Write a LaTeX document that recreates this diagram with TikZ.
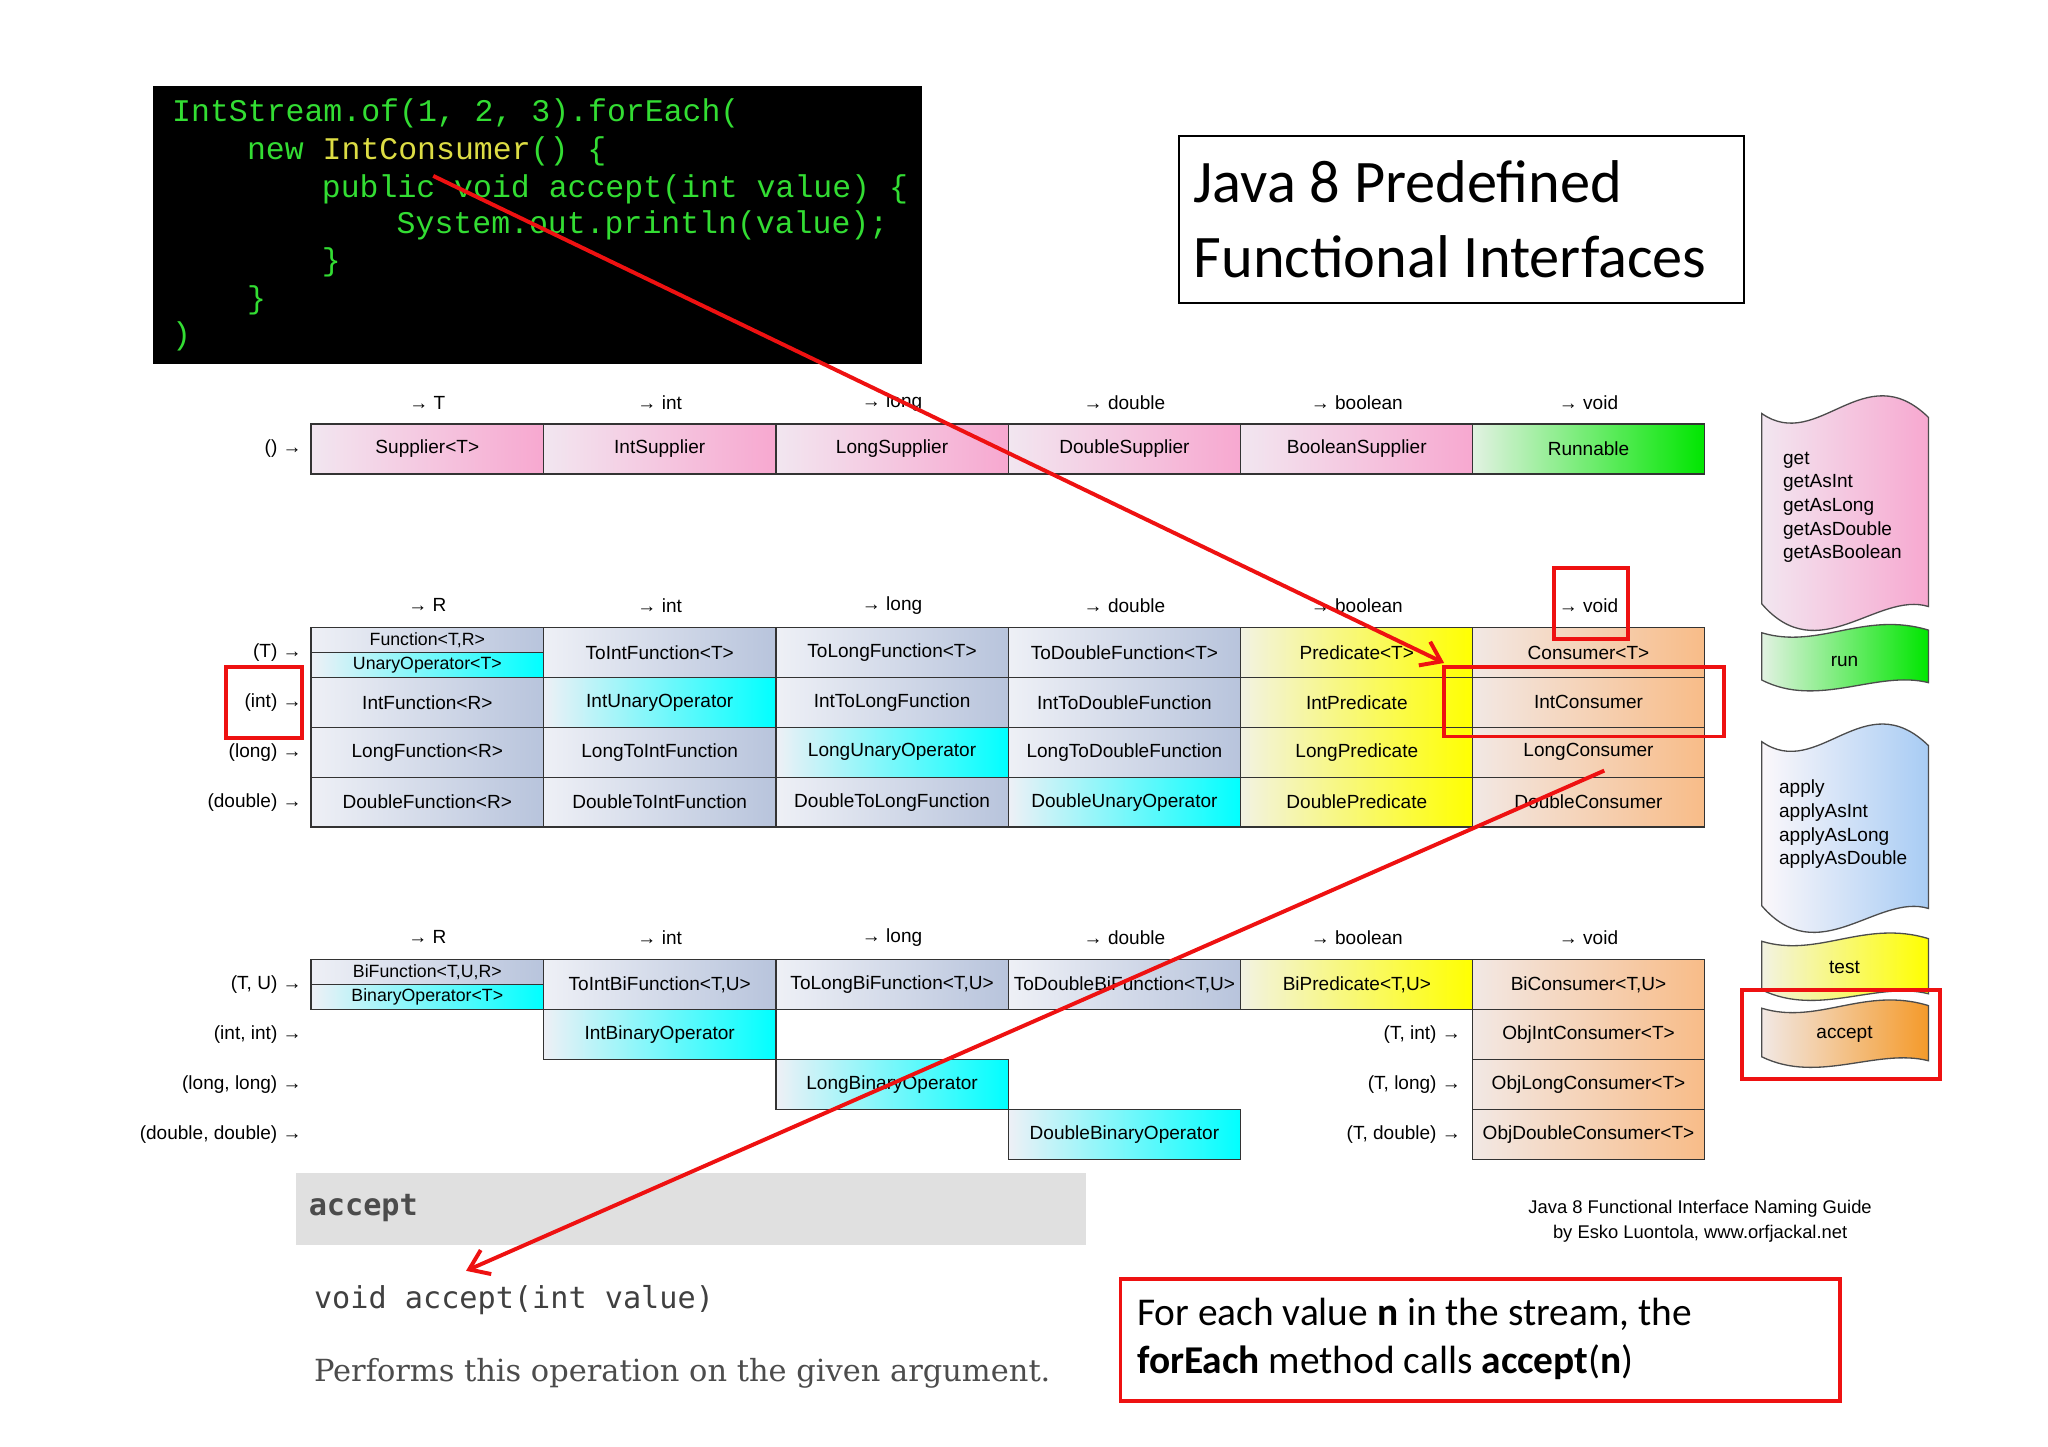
\documentclass[tikz,border=0pt]{standalone}
\usepackage{fontspec}
\setmainfont{Liberation Sans}
\setmonofont{Liberation Mono}
\newfontfamily\calfont{Carlito}
\newfontfamily\dser{DejaVu Serif}
\newfontfamily\dmono{DejaVu Sans Mono}
\usetikzlibrary{arrows.meta}
\definecolor{pinkL}{HTML}{F2E6F0}\definecolor{pinkR}{HTML}{F7A8D0}
\definecolor{greenL}{HTML}{E2F2E2}\definecolor{greenR}{HTML}{00E600}
\definecolor{blueL}{HTML}{EEF0F6}\definecolor{blueR}{HTML}{B8C4DC}
\definecolor{cyanR}{HTML}{00FFFF}
\definecolor{yelL}{HTML}{F2F2E2}\definecolor{yelR}{HTML}{FFFF00}
\definecolor{orL}{HTML}{F2E8E4}\definecolor{orR}{HTML}{F8BC88}
\definecolor{wblue}{HTML}{A8CCF4}\definecolor{wor}{HTML}{F49A2A}
\definecolor{codeg}{HTML}{33DD33}\definecolor{codey}{HTML}{DDDD44}
\definecolor{redl}{HTML}{EE1111}
\newcommand\cellc[6]{\node[cellbox,left color=#4,right color=#5] (#1) at (#2,#3) {#6};}
\tikzset{
 cellbox/.style={draw=black!80,line width=1pt,minimum width=177pt,minimum height=38pt,inner sep=0pt,font=\fontsize{14.5}{16}\selectfont},
 halfbox/.style={cellbox,minimum height=19pt,font=\fontsize{13.5}{14}\selectfont},
 hdr/.style={font=\fontsize{14.5}{16}\selectfont,inner sep=0pt},
 rlab/.style={font=\fontsize{14.5}{16}\selectfont,inner sep=0pt,anchor=east},
 code/.style={anchor=west,inner sep=0pt,text=codeg,font=\ttfamily\fontsize{24}{26}\selectfont},
 redbox/.style={draw=redl,line width=3pt},
 redarrow/.style={draw=redl,line width=3pt,-{Straight Barb[length=14pt,width=20pt,line width=3pt]}},
 wave/.style={draw=black!70,line width=1pt},
 wtext/.style={font=\fontsize{14.5}{18}\selectfont,align=left,inner sep=0pt}
}
\begin{document}
\begin{tikzpicture}[x=1pt,y=-1pt]
\useasboundingbox[fill=white] (0,0) rectangle (1560,1102);
% code box
\node[fill=black,minimum width=586pt,minimum height=212pt,anchor=north west,inner sep=0pt] (codebox) at (116,65) {};
\node[code] (c1) at (131,86) {IntStream.of(1, 2, 3).forEach(};
\node[code] (c2) at (188,115) {new {\color{codey}IntConsumer}() \{};
\node[code] (c3) at (245,144) {public void accept(int value) \{};
\node[code] (c4) at (302,172) {System.out.println(value);};
\node[code] (c5) at (245,200) {\}};
\node[code] (c6) at (188,229) {\}};
\node[code] (c7) at (131,256) {)};
% title
\node[draw=black,line width=1.5pt,minimum width=431pt,minimum height=127pt,anchor=north west,inner sep=0pt] (title) at (897,103) {};
\node[anchor=west,align=left,font=\calfont\fontsize{46}{57}\selectfont,inner sep=0pt] (titletext) at (909,167) {Java 8 Predefined\\Functional Interfaces};
% headers
\foreach \x/\t [count=\i] in {325.5/T,502.5/int,679.5/long,856.5/double,1033.5/boolean,1210/void}{
 \node[hdr] (ha\i) at (\x,307) {→ \t};
}
\foreach \x/\t [count=\i] in {325.5/R,502.5/int,679.5/long,856.5/double,1033.5/boolean,1210/void}{
 \node[hdr] (hb\i) at (\x,461) {→ \t};
 \node[hdr] (hc\i) at (\x,714) {→ \t};
}
\node[rlab] (ra) at (230,342) {() →};
\cellc{a1}{325.5}{342}{pinkL}{pinkR}{Supplier<T>}
\cellc{a2}{502.5}{342}{pinkL}{pinkR}{IntSupplier}
\cellc{a3}{679.5}{342}{pinkL}{pinkR}{LongSupplier}
\cellc{a4}{856.5}{342}{pinkL}{pinkR}{DoubleSupplier}
\cellc{a5}{1033.5}{342}{pinkL}{pinkR}{BooleanSupplier}
\cellc{a6}{1210}{342}{greenL}{greenR}{Runnable}
% group 2
\node[rlab] (rb1) at (230,497) {(T) →};
\node[rlab] (rb2) at (230,535) {(int) →};
\node[rlab] (rb3) at (230,573) {(long) →};
\node[rlab] (rb4) at (230,611) {(double) →};
\node[halfbox,left color=blueL,right color=blueR] (b1a) at (325.5,487.5) {Function<T,R>};
\node[halfbox,left color=blueL,right color=cyanR] (b1b) at (325.5,506.5) {UnaryOperator<T>};
\cellc{b2}{502.5}{497}{blueL}{blueR}{ToIntFunction<T>}
\cellc{b3}{679.5}{497}{blueL}{blueR}{ToLongFunction<T>}
\cellc{b4}{856.5}{497}{blueL}{blueR}{ToDoubleFunction<T>}
\cellc{b5}{1033.5}{497}{yelL}{yelR}{Predicate<T>}
\cellc{b6}{1210}{497}{orL}{orR}{Consumer<T>}
\cellc{c1c}{325.5}{535}{blueL}{blueR}{IntFunction<R>}
\cellc{c2c}{502.5}{535}{blueL}{cyanR}{IntUnaryOperator}
\cellc{c3c}{679.5}{535}{blueL}{blueR}{IntToLongFunction}
\cellc{c4c}{856.5}{535}{blueL}{blueR}{IntToDoubleFunction}
\cellc{c5c}{1033.5}{535}{yelL}{yelR}{IntPredicate}
\cellc{c6c}{1210}{535}{orL}{orR}{IntConsumer}
\cellc{d1}{325.5}{573}{blueL}{blueR}{LongFunction<R>}
\cellc{d2}{502.5}{573}{blueL}{blueR}{LongToIntFunction}
\cellc{d3}{679.5}{573}{blueL}{cyanR}{LongUnaryOperator}
\cellc{d4}{856.5}{573}{blueL}{blueR}{LongToDoubleFunction}
\cellc{d5}{1033.5}{573}{yelL}{yelR}{LongPredicate}
\cellc{d6}{1210}{573}{orL}{orR}{LongConsumer}
\cellc{e1}{325.5}{611}{blueL}{blueR}{DoubleFunction<R>}
\cellc{e2}{502.5}{611}{blueL}{blueR}{DoubleToIntFunction}
\cellc{e3}{679.5}{611}{blueL}{blueR}{DoubleToLongFunction}
\cellc{e4}{856.5}{611}{blueL}{cyanR}{DoubleUnaryOperator}
\cellc{e5}{1033.5}{611}{yelL}{yelR}{DoublePredicate}
\cellc{e6}{1210}{611}{orL}{orR}{DoubleConsumer}
% group 3
\node[rlab] (rc1) at (230,750) {(T, U) →};
\node[rlab] (rc2) at (230,788) {(int, int) →};
\node[rlab] (rc3) at (230,826) {(long, long) →};
\node[rlab] (rc4) at (230,864) {(double, double) →};
\node[halfbox,left color=blueL,right color=blueR] (f1a) at (325.5,740.5) {BiFunction<T,U,R>};
\node[halfbox,left color=blueL,right color=cyanR] (f1b) at (325.5,759.5) {BinaryOperator<T>};
\cellc{f2}{502.5}{750}{blueL}{blueR}{ToIntBiFunction<T,U>}
\cellc{f3}{679.5}{750}{blueL}{blueR}{ToLongBiFunction<T,U>}
\cellc{f4}{856.5}{750}{blueL}{blueR}{ToDoubleBiFunction<T,U>}
\cellc{f5}{1033.5}{750}{yelL}{yelR}{BiPredicate<T,U>}
\cellc{f6}{1210}{750}{orL}{orR}{BiConsumer<T,U>}
\cellc{g2}{502.5}{788}{blueL}{cyanR}{IntBinaryOperator}
\cellc{g6}{1210}{788}{orL}{orR}{ObjIntConsumer<T>}
\cellc{h3}{679.5}{826}{blueL}{cyanR}{LongBinaryOperator}
\cellc{h6}{1210}{826}{orL}{orR}{ObjLongConsumer<T>}
\cellc{i4}{856.5}{864}{blueL}{cyanR}{DoubleBinaryOperator}
\cellc{i6}{1210}{864}{orL}{orR}{ObjDoubleConsumer<T>}
\node[rlab] (rg) at (1113,788) {(T, int) →};
\node[rlab] (rh) at (1113,826) {(T, long) →};
\node[rlab] (ri) at (1113,864) {(T, double) →};
% wave shapes
\path[wave,left color=pinkL,right color=pinkR] (1342,315) .. controls (1385,345) and (1420,270) .. (1469,318) -- (1469,462) .. controls (1430,450) and (1385,510) .. (1342,460) -- cycle;
\node[wtext,anchor=north west] (wp) at (1358,344) {get\\getAsInt\\getAsLong\\getAsDouble\\getAsBoolean};
\path[wave,left color=greenL,right color=greenR] (1342,482) .. controls (1385,495) and (1420,465) .. (1469,480) -- (1469,520) .. controls (1430,510) and (1385,540) .. (1342,518) -- cycle;
\node[wtext] (wr) at (1405,504) {run};
\path[wave,left color=pinkL!30!white,right color=wblue] (1342,565) .. controls (1385,595) and (1420,520) .. (1469,568) -- (1469,692) .. controls (1430,680) and (1385,740) .. (1342,690) -- cycle;
\node[wtext,anchor=north west] (wb) at (1355,594) {apply\\applyAsInt\\applyAsLong\\applyAsDouble};
\path[wave,left color=yelL,right color=yelR] (1342,717) .. controls (1385,730) and (1420,700) .. (1469,715) -- (1469,757) .. controls (1430,747) and (1385,775) .. (1342,754) -- cycle;
\node[wtext] (wt) at (1405,737) {test};
\path[wave,left color=orL,right color=wor] (1342,768) .. controls (1385,781) and (1420,751) .. (1469,766) -- (1469,808) .. controls (1430,798) and (1385,826) .. (1342,805) -- cycle;
\node[wtext] (wa) at (1405,788) {accept};
% red boxes
\node[redbox,minimum width=151pt,minimum height=68pt,inner sep=0pt] (rbacc) at (1402.5,788) {};
\node[redbox,minimum width=56pt,minimum height=54pt,inner sep=0pt] (rbvoid) at (1212,460) {};
\node[redbox,minimum width=213pt,minimum height=53pt,inner sep=0pt] (rbic) at (1206.5,534.5) {};
\node[redbox,minimum width=58pt,minimum height=54pt,inner sep=0pt] (rbint) at (201,535) {};
% doc
\node[fill=black!12,minimum width=602pt,minimum height=55pt,anchor=north west,inner sep=0pt] (docband) at (225,893) {};
\node[anchor=west,inner sep=0pt,font=\dmono\bfseries\fontsize{23}{26}\selectfont,text=black!70] (dacc) at (235,920) {accept};
\node[anchor=west,inner sep=0pt,font=\dmono\fontsize{23}{26}\selectfont,text=black!75] (dsig) at (239,990) {void accept(int value)};
\node[anchor=west,inner sep=0pt,font=\dser\fontsize{23.2}{26}\selectfont,text=black!70] (ddesc) at (239,1046) {Performs this operation on the given argument.};
% credit
\node[align=center,font=\fontsize{14}{19}\selectfont,inner sep=0pt] (credit) at (1295,930) {Java 8 Functional Interface Naming Guide\\by Esko Luontola, www.orfjackal.net};
% bottom red box
\node[redbox,minimum width=548pt,minimum height=93pt,anchor=north west,inner sep=0pt] (note) at (852,973) {};
\node[anchor=west,align=left,font=\calfont\fontsize{30}{37}\selectfont,inner sep=0pt] (notetext) at (866,1020) {For each value \textbf{n} in the stream, the\\\textbf{forEach} method calls \textbf{accept}(\textbf{n})};
% arrows
\coordinate (s1) at (330,134);
\coordinate (e1x) at (1100,505);
\coordinate (s2) at (1222,587);
\coordinate (e2x) at (355,968);
\draw[redarrow] (s1) -- (e1x);
\draw[redarrow] (s2) -- (e2x);
\end{tikzpicture}
\end{document}
